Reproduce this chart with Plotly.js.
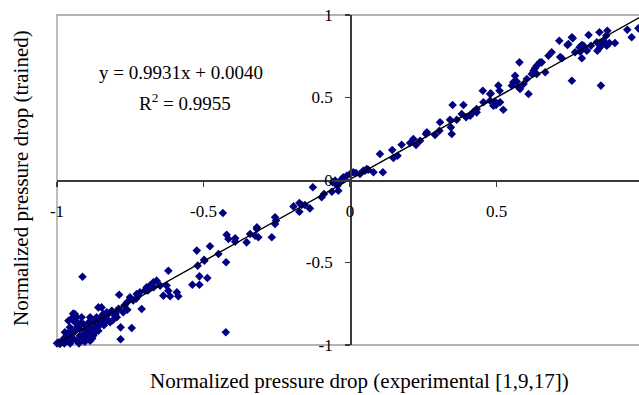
<!DOCTYPE html>
<html>
<head>
<meta charset="utf-8">
<script src="https://cdn.plot.ly/plotly-3.0.1.min.js"></script>
<style>html,body{margin:0;padding:0;background:#fff;}#chart{width:639px;height:395px;}</style>
</head>
<body>
<div id="chart"></div>
<script>
// Experimental (x) vs trained (y) normalized pressure drop
const expX = [
 -1.0,-0.99,-0.978,-0.967,-0.956,-0.956,-0.944,-0.939,-0.95,-0.933,-0.922,-0.91,-0.904,-0.91,-0.887,-0.893,-0.876,-0.882,-0.876,-0.865,
 -0.853,-0.842,-0.83,-0.819,-0.796,-0.961,-0.933,-0.916,-0.751,-0.728,-0.717,-0.694,-0.683,-0.671,-0.66,-0.973,-0.984,-0.922,-0.899,-0.859,
 -0.842,-0.825,-0.813,-0.774,-0.913,-0.788,-0.859,-0.76,-0.711,-0.783,-0.745,-0.783,
 -0.995,-0.97,-0.96,-0.945,-0.94,-0.93,-0.92,-0.9,-0.89,-0.87,-0.86,-0.85,-0.84,-0.8,-0.79,-0.77,-0.76,-0.74,-0.73,-0.7,-0.69,-0.67,-0.945,-0.95,
 -0.722,-0.694,-0.83,-0.848,-0.802,-0.857,-0.887,-0.939,-0.933,-0.876,-0.424,
 -0.434,-0.421,-0.415,-0.392,-0.392,-0.353,-0.341,-0.324,-0.318,-0.523,-0.478,-0.449,-0.423,-0.497,-0.52,-0.514,-0.487,-0.538,-0.514,-0.62,
 -0.648,-0.677,-0.626,-0.62,-0.591,-0.637,-0.614,-0.586,-0.498,
 -0.318,-0.313,-0.267,-0.256,-0.256,-0.253,-0.193,-0.173,-0.165,-0.173,-0.154,-0.137,-0.127,-0.097,-0.089,-0.062,-0.059,-0.051,-0.043,-0.028,
 -0.023,-0.011,0.0,0.011,0.02,0.034,0.051,0.062,-0.04,-0.034,
 0.045,0.057,0.08,0.112,0.102,0.144,0.148,0.162,0.176,0.205,0.216,0.225,0.239,0.262,0.259,0.29,0.307,0.305,0.341,0.344,
 0.347,0.35,0.387,0.364,0.381,0.396,0.41,0.421,0.432,
 0.432,0.453,0.455,0.478,0.489,0.506,0.51,0.512,0.523,0.552,0.557,0.563,0.578,0.575,0.58,0.609,0.62,0.626,0.631,0.637,
 0.654,0.666,0.677,0.688,0.714,0.717,0.742,0.757,0.757,0.768,
 0.48,0.478,0.498,0.495,0.569,0.592,0.603,0.637,0.648,0.723,0.745,0.76,0.791,0.783,0.797,0.808,0.814,0.822,0.842,0.851,
 0.856,0.853,0.865,0.874,0.878,0.885,0.904,0.946,0.961,0.984,0.876,0.791,0.785,0.844,0.853,
 -0.975,-0.965,-0.955,-0.925,-0.915,-0.905,-0.895,-0.88,-0.865,-0.835,-0.81
];
const trainedY = [
 -0.99,-0.994,-0.964,-0.974,-0.944,-0.893,-0.832,-0.862,-0.913,-0.974,-0.903,-0.873,-0.923,-0.964,-0.974,-0.893,-0.933,-0.903,-0.862,-0.832,
 -0.873,-0.853,-0.842,-0.862,-0.832,-0.853,-0.832,-0.832,-0.711,-0.691,-0.681,-0.65,-0.64,-0.62,-0.61,-0.923,-0.978,-0.944,-0.944,-0.913,
 -0.812,-0.812,-0.792,-0.802,-0.586,-0.695,-0.772,-0.786,-0.782,-0.893,-0.897,-0.965,
 -0.985,-0.95,-0.98,-0.96,-0.92,-0.89,-0.87,-0.91,-0.86,-0.89,-0.85,-0.83,-0.88,-0.81,-0.78,-0.76,-0.74,-0.73,-0.72,-0.67,-0.67,-0.65,-0.81,-0.84,
 -0.701,-0.661,-0.802,-0.772,-0.822,-0.883,-0.832,-0.812,-0.862,-0.943,-0.923,
 -0.2,-0.332,-0.358,-0.353,-0.374,-0.378,-0.327,-0.338,-0.297,-0.428,-0.402,-0.448,-0.499,-0.489,-0.519,-0.584,-0.594,-0.635,-0.635,-0.55,
 -0.64,-0.65,-0.64,-0.671,-0.681,-0.701,-0.705,-0.705,-0.483,
 -0.287,-0.347,-0.347,-0.226,-0.267,-0.247,-0.16,-0.139,-0.152,-0.192,-0.152,-0.172,-0.044,-0.105,-0.085,-0.071,-0.014,-0.004,-0.035,0.006,
 0.016,0.026,0.036,0.047,0.042,0.036,0.056,0.062,-0.065,-0.014,
 0.056,0.067,0.047,0.047,0.158,0.182,0.133,0.147,0.214,0.224,0.248,0.212,0.238,0.289,0.279,0.273,0.35,0.299,0.365,0.319,
 0.279,0.455,0.455,0.365,0.4,0.38,0.39,0.414,0.43,
 0.41,0.541,0.471,0.521,0.45,0.572,0.541,0.471,0.426,0.572,0.592,0.632,0.713,0.562,0.552,0.521,0.642,0.662,0.677,0.693,
 0.713,0.653,0.753,0.774,0.844,0.745,0.818,0.865,0.602,0.774,
 0.525,0.481,0.455,0.475,0.596,0.582,0.612,0.642,0.713,0.738,0.824,0.859,0.738,0.804,0.814,0.784,0.879,0.814,0.835,0.895,
 0.572,0.804,0.844,0.875,0.905,0.83,0.83,0.911,0.865,0.919,0.814,0.818,0.778,0.784,0.824,
 -0.99,-0.93,-0.99,-0.99,-0.95,-0.98,-0.92,-0.96,-0.9,-0.86,-0.85
];
// Linear trendline y = 0.9931x + 0.0040 (end points)
const fitX = [-1, 1];
const fitY = [-0.9891, 0.9971];
const equationText = "y = 0.9931x + 0.0040";
const r2Text = "R<sup>2</sup> = 0.9955";
const xTicks = [-1, -0.5, 0, 0.5, 1];
const xTickText = ["-1", "-0.5", "0", "0.5", "1"];
const yTicks = [-1, -0.5, 0, 0.5, 1];
const yTickText = ["-1", "-0.5", "0", "0.5", "1"];
const xTitle = "Normalized pressure drop (experimental [1,9,17])";
const yTitle = "Normalized pressure drop (trained)";

const FONT = "Liberation Serif, Times New Roman, serif";
const xMin = -1, xMax = 0.986;

const traces = [
  {type: 'scatter', mode: 'markers', x: expX, y: trainedY,
   marker: {symbol: 'diamond', size: 6.6, color: '#000080', line: {width: 0}},
   hoverinfo: 'x+y', cliponaxis: false},
  {type: 'scatter', mode: 'lines', x: fitX, y: fitY,
   line: {color: '#000000', width: 1.4}, hoverinfo: 'skip'}
];

const axisCommon = {
  showline: true, linecolor: '#3a3a3a', linewidth: 1.5,
  ticks: 'outside', ticklen: 5, tickwidth: 1.5, tickcolor: '#3a3a3a',
  showgrid: false, zeroline: false, tickmode: 'array',
  tickfont: {family: FONT, size: 17, color: '#000'},
  anchor: 'free', fixedrange: true
};

const layout = {
  width: 639, height: 395,
  margin: {l: 57, r: 0, t: 15, b: 50, pad: 0},
  paper_bgcolor: '#ffffff', plot_bgcolor: '#ffffff',
  showlegend: false,
  xaxis: Object.assign({}, axisCommon, {
    range: [xMin, xMax], tickvals: xTicks, ticktext: xTickText,
    position: 0.5, ticklabelstandoff: 10
  }),
  yaxis: Object.assign({}, axisCommon, {
    range: [-1, 1], tickvals: yTicks, ticktext: yTickText,
    position: (0 - xMin) / (xMax - xMin), ticklabelstandoff: 9
  }),
  shapes: [
    {type: 'rect', xref: 'paper', yref: 'paper', x0: 0, x1: 1.02, y0: 0, y1: 1,
     line: {color: '#9a9a9a', width: 1.3}, layer: 'below'}
  ],
  annotations: [
    {xref: 'paper', yref: 'paper', x: 0.213, y: 0.827, text: equationText, showarrow: false,
     xanchor: 'center', yanchor: 'middle', font: {family: FONT, size: 19, color: '#000'}},
    {xref: 'paper', yref: 'paper', x: 0.22, y: 0.736, text: r2Text, showarrow: false,
     xanchor: 'center', yanchor: 'middle', font: {family: FONT, size: 19, color: '#000'}},
    {xref: 'paper', yref: 'paper', x: 0.52, y: -0.109, text: xTitle, showarrow: false,
     xanchor: 'center', yanchor: 'middle', font: {family: FONT, size: 21, color: '#000'}},
    {xref: 'paper', yref: 'paper', x: -0.062, y: 0.506, text: yTitle, showarrow: false,
     textangle: -90, xanchor: 'center', yanchor: 'middle', font: {family: FONT, size: 21, color: '#000'}}
  ]
};

Plotly.newPlot('chart', traces, layout, {displayModeBar: false, staticPlot: true});
</script>
</body>
</html>
